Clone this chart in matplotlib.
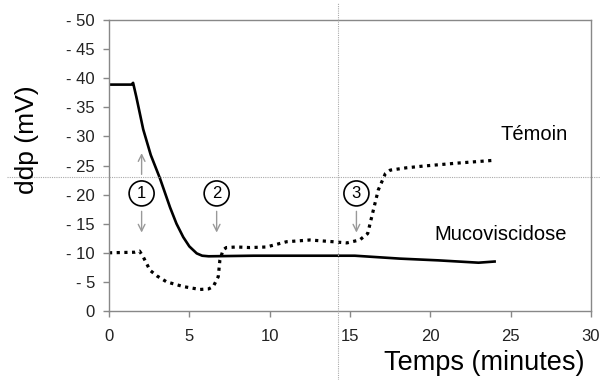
import numpy as np
import matplotlib
matplotlib.use('Agg')
from matplotlib import pyplot as plt
from matplotlib.lines import Line2D

plt.rcParams['font.family'] = ['Liberation Sans', 'DejaVu Sans']

# Mucoviscidose (solid)
t_muco = [0, 1.4, 1.5, 1.7, 1.9, 2.13, 2.6, 3.17, 3.8, 4.2, 4.62, 5.0, 5.46, 5.8, 6.2, 9, 12, 15.3, 18.1, 20.5, 23, 24]
v_muco = [38.9, 38.9, 39.2, 36.8, 34.2, 31.2, 26.8, 22.8, 17.8, 15.0, 12.7, 11.1, 9.9, 9.5, 9.4, 9.5, 9.5, 9.5, 9.0, 8.7, 8.3, 8.5]

# Temoin (dotted)
t_tem = [0, 1.6, 1.9, 2.13, 2.55, 3.0, 3.59, 4.62, 5.66, 6.2, 6.49, 6.8, 6.9, 7.1, 7.3, 7.94, 8.77, 9.8,
         11.05, 12.5, 13.96, 14.8, 15.6, 16.1, 16.45, 16.76, 17.2, 17.5, 18.5, 19.56, 21.63, 24.0]
v_tem = [10.0, 10.1, 10.3, 9.3, 7.0, 6.0, 5.0, 4.2, 3.7, 3.8, 4.2, 5.9, 8.7, 10.5, 10.9, 11.0, 10.9, 11.0,
         11.9, 12.2, 11.9, 11.7, 12.2, 13.3, 17.3, 20.8, 23.6, 24.2, 24.6, 24.9, 25.4, 25.9]

yticks = [0, 5, 10, 15, 20, 25, 30, 35, 40, 45, 50]
ytick_labels = ['0'] + ['- %d' % v for v in yticks[1:]]
xticks = [0, 5, 10, 15, 20, 25, 30]

# step markers: label, x, arrow up?
steps = [('1', 2.03, True), ('2', 6.7, False), ('3', 15.4, False)]

fig = plt.figure(figsize=(6, 3.8), dpi=100)
ax = fig.add_axes([109 / 600, 1 - 311 / 380, (591 - 109) / 600, (311 - 20) / 380])

ax.plot(t_muco, v_muco, color='black', lw=1.9, solid_joinstyle='round')
ax.plot(t_tem, v_tem, color='black', lw=2.3, linestyle=(0, (1, 1.4)), dash_capstyle='butt')

ax.set_xlim(0, 30)
ax.set_ylim(0, 50)
ax.set_xticks(xticks)
ax.set_yticks(yticks)
ax.set_yticklabels(ytick_labels)
for s in ax.spines.values():
    s.set_color('#888888')
    s.set_linewidth(1.0)
ax.tick_params(axis='both', colors='#888888', labelcolor='#222222', labelsize=12, length=4, width=1)
ax.tick_params(axis='x', pad=9)
ax.tick_params(axis='y', pad=6)

for lab, x, up in steps:
    ax.text(x, 20.2, lab, ha='center', va='center', fontsize=12,
            bbox=dict(boxstyle='circle,pad=0.3', fc='white', ec='black', lw=1.2))
    ax.annotate('', xy=(x, 13.0), xytext=(x, 17.6),
                arrowprops=dict(arrowstyle='->', color='#999999', lw=1.0, mutation_scale=12))
    if up:
        ax.annotate('', xy=(x, 27.6), xytext=(x, 23.0),
                    arrowprops=dict(arrowstyle='->', color='#999999', lw=1.0, mutation_scale=12))

ax.text(568 / 600, 1 - 134 / 380, 'Témoin', transform=fig.transFigure, ha='right', va='center', fontsize=14.5)
ax.text(567 / 600, 1 - 234 / 380, 'Mucoviscidose', transform=fig.transFigure, ha='right', va='center', fontsize=14.5)

fig.text(27 / 600, 1 - 140 / 380, 'ddp (mV)', rotation=90, ha='center', va='center', fontsize=19)
fig.text(484 / 600, 1 - 363 / 380, 'Temps (minutes)', ha='center', va='center', fontsize=19.5)

# crosshair lines across the figure
fig.add_artist(Line2D([7 / 600, 1], [1 - 176.7 / 380] * 2, color='#aaaaaa', lw=0.8, linestyle=(0, (1, 1))))
fig.add_artist(Line2D([338 / 600] * 2, [0, 1 - 3 / 380], color='#aaaaaa', lw=0.8, linestyle=(0, (1, 1))))

fig.savefig('out.png', dpi=100)
